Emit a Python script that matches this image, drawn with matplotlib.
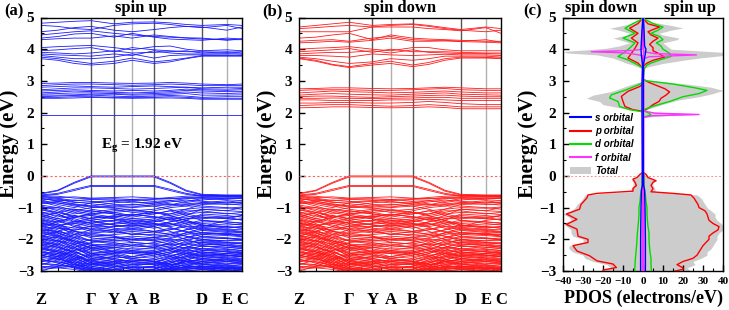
import numpy as np
import matplotlib
matplotlib.use('Agg')
import matplotlib.pyplot as plt
from matplotlib.lines import Line2D
from matplotlib.patches import Patch

plt.rcParams['font.family'] = ['Liberation Serif', 'DejaVu Serif']
plt.rcParams['font.weight'] = 'bold'
plt.rcParams['mathtext.fontset'] = 'custom'
plt.rcParams['mathtext.rm'] = 'Liberation Serif:bold'
plt.rcParams['mathtext.bf'] = 'Liberation Serif:bold'
plt.rcParams['mathtext.it'] = 'Liberation Serif:bold'

# ---------------- data ----------------
# k-path sample positions: Z, z1, z2, Gamma, Y, A, B, b1, b2, D, E, C
kpath = [0.0, 0.083, 0.166, 0.249, 0.363, 0.453, 0.562, 0.642, 0.722, 0.801, 0.925, 1.0]
hs_pos = [0.0, 0.249, 0.363, 0.453, 0.562, 0.801, 0.925, 1.0]
hs_labels = ['Z', 'Γ', 'Y', 'A', 'B', 'D', 'E', 'C']
hs_dark = [True, True, True, False, True, True, False, True]

valence_bands = [
    [-0.55, -0.45, -0.20, -0.00, -0.00, -0.00, -0.00, -0.20, -0.45, -0.58, -0.60, -0.60],
    [-0.57, -0.47, -0.23, -0.03, -0.03, -0.03, -0.03, -0.23, -0.48, -0.60, -0.62, -0.62],
    [-0.60, -0.55, -0.42, -0.30, -0.30, -0.30, -0.30, -0.42, -0.55, -0.62, -0.63, -0.63],
    [-0.62, -0.58, -0.46, -0.33, -0.33, -0.33, -0.33, -0.46, -0.58, -0.64, -0.65, -0.65],
    [-0.62, -0.64, -0.70, -0.72, -0.72, -0.74, -0.72, -0.68, -0.64, -0.62, -0.62, -0.63],
    [-0.66, -0.70, -0.78, -0.74, -0.76, -0.78, -0.74, -0.72, -0.68, -0.66, -0.67, -0.68],
    [-0.70, -0.80, -0.90, -0.95, -0.85, -0.80, -0.88, -0.92, -0.80, -0.72, -0.75, -0.78],
    [-0.76, -0.72, -0.82, -0.88, -0.95, -0.98, -0.90, -0.82, -0.76, -0.80, -0.85, -0.82],
    [-0.82, -0.95, -1.10, -1.20, -1.10, -1.05, -1.15, -1.20, -1.05, -0.90, -0.88, -0.92],
    [-0.88, -0.85, -0.95, -1.05, -1.15, -1.25, -1.10, -1.00, -0.95, -0.95, -1.00, -1.05],
    [-0.95, -1.10, -1.30, -1.40, -1.30, -1.20, -1.30, -1.40, -1.25, -1.05, -1.10, -1.00],
    [-1.00, -1.00, -1.15, -1.25, -1.35, -1.45, -1.35, -1.20, -1.10, -1.10, -1.20, -1.15],
    [-1.05, -1.20, -1.45, -1.55, -1.50, -1.40, -1.50, -1.55, -1.40, -1.20, -1.25, -1.30],
    [-1.12, -1.30, -1.10, -1.00, -0.95, -0.90, -0.95, -1.05, -1.20, -1.30, -1.35, -1.25],
    [-1.18, -1.25, -1.35, -1.50, -1.65, -1.70, -1.60, -1.45, -1.35, -1.35, -1.30, -1.40],
    [-1.25, -1.40, -1.60, -1.75, -1.70, -1.65, -1.75, -1.70, -1.55, -1.45, -1.45, -1.50],
    [-1.30, -1.15, -1.05, -1.10, -1.20, -1.30, -1.20, -1.10, -1.25, -1.40, -1.50, -1.55],
    [-1.35, -1.50, -1.75, -1.90, -1.85, -1.80, -1.90, -1.85, -1.70, -1.55, -1.60, -1.65],
    [-1.40, -1.45, -1.30, -1.25, -1.35, -1.50, -1.40, -1.30, -1.40, -1.55, -1.65, -1.60],
    [-1.45, -1.60, -1.85, -2.05, -2.00, -1.95, -2.05, -1.95, -1.80, -1.65, -1.70, -1.75],
    [-1.50, -1.55, -1.50, -1.45, -1.55, -1.65, -1.55, -1.50, -1.60, -1.70, -1.75, -1.80],
    [-1.55, -1.70, -1.95, -2.15, -2.20, -2.15, -2.25, -2.10, -1.95, -1.80, -1.85, -1.85],
    [-1.60, -1.65, -1.70, -1.65, -1.75, -1.85, -1.75, -1.65, -1.75, -1.85, -1.80, -1.90],
    [-1.65, -1.80, -2.05, -2.30, -2.35, -2.40, -2.35, -2.25, -2.05, -1.90, -1.95, -2.00],
    [-1.70, -1.75, -1.85, -1.90, -1.95, -2.00, -1.95, -1.85, -1.90, -2.00, -2.05, -2.00],
    [-1.75, -1.90, -2.15, -2.45, -2.50, -2.55, -2.45, -2.35, -2.15, -2.00, -2.10, -2.10],
    [-1.80, -1.80, -1.95, -2.05, -2.10, -2.20, -2.10, -2.00, -2.05, -2.10, -2.15, -2.20],
    [-1.85, -2.00, -2.25, -2.55, -2.60, -2.70, -2.60, -2.45, -2.25, -2.10, -2.20, -2.25],
    [-1.90, -1.95, -2.05, -2.20, -2.25, -2.35, -2.25, -2.15, -2.15, -2.20, -2.25, -2.30],
    [-1.95, -2.10, -2.35, -2.65, -2.75, -2.85, -2.75, -2.55, -2.35, -2.20, -2.30, -2.35],
    [-2.00, -2.05, -2.15, -2.35, -2.40, -2.45, -2.40, -2.30, -2.25, -2.30, -2.35, -2.40],
    [-2.05, -2.20, -2.45, -2.75, -2.85, -2.95, -2.85, -2.65, -2.45, -2.30, -2.40, -2.45],
    [-2.10, -2.15, -2.30, -2.45, -2.55, -2.60, -2.50, -2.40, -2.35, -2.40, -2.45, -2.50],
    [-2.15, -2.30, -2.55, -2.85, -2.95, -3.05, -2.95, -2.75, -2.55, -2.40, -2.50, -2.55],
    [-2.20, -2.25, -2.40, -2.55, -2.65, -2.70, -2.65, -2.50, -2.45, -2.50, -2.55, -2.60],
    [-2.25, -2.40, -2.65, -2.90, -3.05, -3.10, -3.00, -2.85, -2.65, -2.50, -2.60, -2.65],
    [-2.30, -2.35, -2.50, -2.70, -2.75, -2.80, -2.75, -2.60, -2.55, -2.60, -2.65, -2.70],
    [-2.35, -2.50, -2.75, -2.95, -3.10, -3.15, -3.05, -2.95, -2.75, -2.60, -2.70, -2.75],
    [-2.40, -2.45, -2.60, -2.80, -2.85, -2.90, -2.85, -2.70, -2.65, -2.70, -2.75, -2.80],
    [-2.50, -2.60, -2.80, -3.00, -3.10, -3.10, -3.10, -3.00, -2.85, -2.70, -2.80, -2.85],
    [-2.55, -2.55, -2.70, -2.90, -2.95, -3.00, -2.95, -2.80, -2.75, -2.80, -2.85, -2.90],
    [-2.65, -2.70, -2.85, -3.05, -3.10, -3.10, -3.10, -3.00, -2.90, -2.85, -2.90, -2.95],
    [-2.75, -2.80, -2.90, -3.00, -3.05, -3.10, -3.05, -2.95, -2.95, -2.90, -2.95, -3.00],
    [-2.85, -2.90, -2.95, -3.05, -3.10, -3.10, -3.10, -3.05, -3.00, -2.95, -3.00, -3.05],
    [-2.95, -2.90, -2.85, -2.80, -2.75, -2.70, -2.75, -2.85, -2.90, -2.95, -3.00, -2.95],
    [-2.60, -2.45, -2.25, -2.10, -2.05, -2.00, -2.05, -2.15, -2.30, -2.45, -2.50, -2.55],
    [-2.80, -2.65, -2.45, -2.30, -2.25, -2.20, -2.25, -2.35, -2.50, -2.65, -2.70, -2.75],
    [-3.00, -2.85, -2.65, -2.50, -2.45, -2.40, -2.45, -2.55, -2.70, -2.85, -2.90, -2.95],
    [-2.20, -2.05, -1.85, -1.70, -1.60, -1.55, -1.60, -1.75, -1.90, -2.05, -2.10, -2.15],
    [-1.90, -1.75, -1.60, -1.45, -1.40, -1.35, -1.40, -1.50, -1.65, -1.80, -1.85, -1.90],
    [-1.60, -1.45, -1.30, -1.20, -1.15, -1.10, -1.15, -1.25, -1.40, -1.55, -1.60, -1.65],
    [-2.45, -2.55, -2.35, -2.25, -2.40, -2.55, -2.40, -2.30, -2.45, -2.55, -2.45, -2.40],
    [-2.70, -2.60, -2.75, -2.65, -2.55, -2.60, -2.70, -2.80, -2.70, -2.75, -2.65, -2.70],
    [-1.20, -1.35, -1.25, -1.35, -1.45, -1.55, -1.45, -1.35, -1.45, -1.60, -1.40, -1.35],
    [-0.75, -0.90, -1.00, -0.85, -0.80, -0.85, -0.82, -0.88, -0.95, -0.85, -0.78, -0.85],
    [-0.64, -0.68, -0.66, -0.70, -0.68, -0.66, -0.70, -0.72, -0.70, -0.68, -0.66, -0.65],
    [-0.68, -0.74, -0.84, -0.82, -0.78, -0.74, -0.80, -0.78, -0.72, -0.70, -0.72, -0.70],
    [-0.72, -0.78, -0.76, -0.80, -0.90, -0.92, -0.85, -0.78, -0.84, -0.76, -0.70, -0.72],
    [-0.80, -0.85, -0.92, -0.98, -1.02, -1.00, -0.95, -0.90, -0.88, -0.84, -0.90, -0.88],
    [-0.86, -0.80, -0.88, -0.95, -1.00, -1.10, -1.05, -0.95, -0.90, -0.88, -0.82, -0.86],
    [-0.92, -1.00, -1.05, -1.15, -1.05, -1.15, -1.20, -1.10, -1.05, -1.00, -1.02, -0.98],
    [-0.98, -1.05, -1.20, -1.10, -1.20, -1.25, -1.15, -1.25, -1.15, -1.05, -1.10, -1.12],
    [-1.02, -1.15, -1.25, -1.35, -1.25, -1.35, -1.30, -1.30, -1.20, -1.15, -1.18, -1.22],
    [-1.08, -1.15, -1.30, -1.20, -1.30, -1.40, -1.45, -1.35, -1.30, -1.25, -1.30, -1.25],
    [-1.15, -1.20, -1.40, -1.50, -1.40, -1.50, -1.55, -1.45, -1.35, -1.30, -1.35, -1.38],
    [-1.22, -1.35, -1.45, -1.40, -1.55, -1.60, -1.50, -1.60, -1.50, -1.40, -1.45, -1.48],
    [-1.28, -1.40, -1.50, -1.60, -1.60, -1.55, -1.65, -1.55, -1.45, -1.50, -1.55, -1.52],
    [-1.32, -1.45, -1.55, -1.70, -1.80, -1.75, -1.80, -1.70, -1.60, -1.58, -1.62, -1.60],
    [-1.38, -1.55, -1.65, -1.60, -1.70, -1.85, -1.85, -1.80, -1.70, -1.62, -1.68, -1.70],
    [-1.42, -1.55, -1.75, -1.85, -1.90, -2.00, -1.95, -1.90, -1.80, -1.72, -1.78, -1.76],
    [-1.48, -1.65, -1.80, -1.95, -2.05, -2.05, -2.00, -1.98, -1.85, -1.78, -1.82, -1.84],
    [-1.52, -1.60, -1.75, -1.80, -1.90, -2.10, -2.15, -2.05, -1.95, -1.85, -1.88, -1.92],
    [-1.58, -1.75, -1.90, -2.05, -2.15, -2.25, -2.20, -2.15, -2.00, -1.95, -1.98, -1.96],
    [-1.62, -1.78, -2.00, -2.20, -2.25, -2.30, -2.30, -2.20, -2.10, -2.02, -2.05, -2.04],
    [-1.68, -1.85, -2.10, -2.25, -2.30, -2.40, -2.45, -2.30, -2.15, -2.08, -2.12, -2.14],
    [-1.72, -1.88, -2.05, -2.15, -2.40, -2.45, -2.50, -2.40, -2.25, -2.15, -2.18, -2.22],
    [-1.78, -1.95, -2.20, -2.40, -2.45, -2.60, -2.55, -2.45, -2.30, -2.22, -2.25, -2.28],
    [-1.82, -1.90, -2.10, -2.30, -2.50, -2.65, -2.65, -2.55, -2.40, -2.28, -2.32, -2.36],
    [-1.88, -2.05, -2.30, -2.50, -2.60, -2.75, -2.70, -2.60, -2.45, -2.35, -2.38, -2.42],
    [-1.92, -2.05, -2.25, -2.45, -2.65, -2.80, -2.80, -2.70, -2.50, -2.40, -2.45, -2.48],
    [-1.98, -2.15, -2.40, -2.60, -2.70, -2.90, -2.90, -2.75, -2.60, -2.48, -2.52, -2.55],
    [-2.02, -2.20, -2.45, -2.70, -2.80, -2.95, -3.00, -2.85, -2.65, -2.55, -2.58, -2.62],
    [-2.08, -2.25, -2.50, -2.75, -2.90, -3.05, -3.05, -2.90, -2.70, -2.62, -2.65, -2.68],
    [-2.12, -2.25, -2.40, -2.60, -2.70, -2.75, -2.80, -2.65, -2.55, -2.45, -2.50, -2.52],
    [-2.18, -2.35, -2.60, -2.80, -2.90, -2.95, -2.95, -2.80, -2.70, -2.65, -2.70, -2.72],
    [-2.22, -2.40, -2.55, -2.65, -2.85, -2.90, -2.85, -2.75, -2.65, -2.70, -2.78, -2.76],
    [-2.28, -2.45, -2.70, -2.90, -3.00, -3.05, -3.00, -2.90, -2.80, -2.75, -2.82, -2.85],
    [-2.32, -2.40, -2.55, -2.75, -2.80, -2.85, -2.90, -2.85, -2.70, -2.78, -2.88, -2.92],
    [-2.38, -2.55, -2.80, -2.95, -3.05, -3.10, -3.05, -2.95, -2.85, -2.85, -2.92, -2.96],
    [-2.42, -2.50, -2.65, -2.85, -2.95, -3.00, -3.00, -2.90, -2.80, -2.90, -2.96, -3.00],
    [-2.48, -2.65, -2.85, -3.00, -3.05, -3.10, -3.08, -3.00, -2.95, -2.92, -3.00, -3.05],
    [-2.58, -2.62, -2.75, -2.95, -3.00, -3.05, -3.02, -2.95, -2.88, -2.96, -3.02, -3.05],
    [-2.62, -2.75, -2.90, -3.05, -3.10, -3.10, -3.10, -3.02, -2.98, -3.00, -3.05, -3.08],
    [-2.68, -2.72, -2.80, -2.92, -2.96, -3.00, -2.98, -2.92, -2.86, -2.84, -2.88, -2.90],
    [-2.78, -2.82, -2.88, -2.96, -3.00, -3.05, -3.02, -2.96, -2.92, -2.88, -2.92, -2.94],
    [-2.88, -2.86, -2.80, -2.75, -2.70, -2.66, -2.70, -2.78, -2.84, -2.90, -2.94, -2.92],
    [-2.92, -2.78, -2.60, -2.45, -2.40, -2.35, -2.40, -2.50, -2.62, -2.78, -2.84, -2.88],
    [-2.72, -2.55, -2.35, -2.20, -2.15, -2.10, -2.15, -2.25, -2.40, -2.55, -2.62, -2.66],
    [-2.52, -2.35, -2.15, -2.00, -1.95, -1.90, -1.95, -2.05, -2.20, -2.35, -2.40, -2.45],
    [-2.32, -2.15, -1.95, -1.80, -1.75, -1.70, -1.75, -1.85, -2.00, -2.15, -2.20, -2.25],
    [-2.05, -1.90, -1.72, -1.58, -1.52, -1.48, -1.52, -1.62, -1.78, -1.92, -1.98, -2.02],
    [-1.75, -1.60, -1.45, -1.32, -1.28, -1.22, -1.28, -1.38, -1.52, -1.68, -1.72, -1.78],
]

cond_up = [
    [4.82, 4.85, 4.88, 4.90, 4.80, 4.85, 4.86, 4.83, 4.78, 4.75, 4.78, 4.75],
    [4.75, 4.72, 4.65, 4.62, 4.75, 4.80, 4.82, 4.78, 4.72, 4.70, 4.60, 4.70],
    [4.55, 4.60, 4.68, 4.72, 4.60, 4.55, 4.62, 4.68, 4.72, 4.68, 4.75, 4.65],
    [4.45, 4.50, 4.55, 4.58, 4.50, 4.45, 4.40, 4.38, 4.35, 4.32, 4.30, 4.30],
    [4.35, 4.40, 4.48, 4.50, 4.38, 4.50, 4.38, 4.32, 4.30, 4.28, 4.35, 4.32],
    [4.30, 4.33, 4.35, 4.35, 4.42, 4.35, 4.45, 4.40, 4.36, 4.35, 4.28, 4.33],
    [4.05, 4.08, 4.10, 4.12, 4.05, 3.98, 4.08, 4.10, 4.00, 3.95, 3.98, 3.95],
    [3.95, 3.98, 4.02, 4.05, 3.92, 4.05, 3.98, 3.95, 3.92, 3.92, 3.90, 3.92],
    [3.90, 3.88, 3.85, 3.88, 3.95, 3.88, 3.90, 3.92, 3.95, 3.88, 3.92, 3.88],
    [3.85, 3.82, 3.80, 3.78, 3.85, 3.80, 3.95, 3.88, 3.85, 3.85, 3.86, 3.85],
    [3.80, 3.75, 3.70, 3.70, 3.75, 3.85, 3.72, 3.80, 3.82, 3.82, 3.82, 3.80],
    [3.75, 3.70, 3.62, 3.55, 3.62, 3.72, 3.60, 3.65, 3.72, 3.80, 3.80, 3.82],
    [3.70, 3.65, 3.55, 3.50, 3.55, 3.65, 3.55, 3.60, 3.70, 3.78, 3.78, 3.78],
    [2.92, 2.93, 2.95, 2.95, 2.93, 2.92, 2.93, 2.95, 2.93, 2.90, 2.88, 2.90],
    [2.85, 2.88, 2.90, 2.90, 2.88, 2.86, 2.88, 2.90, 2.88, 2.85, 2.85, 2.85],
    [2.80, 2.82, 2.84, 2.82, 2.80, 2.82, 2.84, 2.82, 2.80, 2.78, 2.80, 2.80],
    [2.72, 2.75, 2.78, 2.78, 2.76, 2.74, 2.76, 2.78, 2.80, 2.75, 2.74, 2.76],
    [2.68, 2.70, 2.72, 2.70, 2.68, 2.70, 2.68, 2.70, 2.74, 2.72, 2.70, 2.72],
    [2.62, 2.65, 2.68, 2.66, 2.64, 2.62, 2.64, 2.66, 2.70, 2.68, 2.66, 2.66],
    [2.58, 2.60, 2.62, 2.62, 2.60, 2.58, 2.60, 2.62, 2.65, 2.62, 2.60, 2.62],
    [2.55, 2.55, 2.56, 2.58, 2.58, 2.55, 2.56, 2.58, 2.60, 2.55, 2.55, 2.56],
    [2.50, 2.52, 2.54, 2.55, 2.52, 2.50, 2.52, 2.54, 2.52, 2.48, 2.50, 2.50],
    [2.48, 2.48, 2.50, 2.50, 2.48, 2.48, 2.48, 2.50, 2.48, 2.45, 2.45, 2.45],
    [2.45, 2.45, 2.46, 2.48, 2.46, 2.45, 2.46, 2.46, 2.45, 2.42, 2.42, 2.42],
    [1.93, 1.93, 1.93, 1.93, 1.93, 1.93, 1.93, 1.93, 1.93, 1.93, 1.93, 1.93],
]

cond_dn = [
    [4.70, 4.75, 4.80, 4.85, 4.75, 4.78, 4.80, 4.75, 4.68, 4.62, 4.70, 4.65],
    [4.65, 4.68, 4.72, 4.75, 4.70, 4.75, 4.78, 4.72, 4.65, 4.60, 4.55, 4.60],
    [4.55, 4.55, 4.55, 4.55, 4.70, 4.70, 4.70, 4.65, 4.62, 4.58, 4.68, 4.50],
    [4.35, 4.38, 4.45, 4.50, 4.30, 4.45, 4.35, 4.32, 4.30, 4.28, 4.25, 4.25],
    [4.25, 4.28, 4.30, 4.25, 4.35, 4.40, 4.30, 4.28, 4.28, 4.25, 4.30, 4.22],
    [4.20, 4.22, 4.25, 4.22, 4.28, 4.35, 4.25, 4.25, 4.26, 4.24, 4.22, 4.20],
    [4.00, 4.03, 4.05, 4.08, 4.00, 3.95, 4.05, 4.05, 3.98, 3.95, 3.95, 3.95],
    [3.92, 3.95, 3.98, 4.02, 3.90, 4.00, 3.92, 3.92, 3.92, 3.90, 3.88, 3.88],
    [3.85, 3.88, 3.90, 3.90, 3.95, 3.88, 3.98, 3.90, 3.88, 3.86, 3.86, 3.85],
    [3.80, 3.80, 3.78, 3.75, 3.85, 3.82, 3.80, 3.82, 3.84, 3.82, 3.82, 3.80],
    [3.75, 3.70, 3.62, 3.55, 3.60, 3.70, 3.65, 3.70, 3.78, 3.78, 3.78, 3.75],
    [3.72, 3.65, 3.52, 3.45, 3.55, 3.62, 3.50, 3.58, 3.70, 3.75, 3.74, 3.72],
    [3.70, 3.62, 3.50, 3.42, 3.50, 3.55, 3.45, 3.52, 3.65, 3.72, 3.72, 3.70],
    [2.75, 2.76, 2.78, 2.78, 2.76, 2.75, 2.76, 2.78, 2.80, 2.78, 2.75, 2.75],
    [2.70, 2.72, 2.72, 2.72, 2.70, 2.70, 2.72, 2.74, 2.76, 2.72, 2.70, 2.70],
    [2.62, 2.65, 2.68, 2.66, 2.64, 2.62, 2.64, 2.66, 2.68, 2.65, 2.62, 2.62],
    [2.55, 2.58, 2.60, 2.58, 2.56, 2.55, 2.58, 2.60, 2.62, 2.58, 2.56, 2.55],
    [2.50, 2.52, 2.52, 2.50, 2.48, 2.50, 2.52, 2.54, 2.55, 2.52, 2.50, 2.50],
    [2.45, 2.45, 2.46, 2.45, 2.44, 2.45, 2.46, 2.48, 2.48, 2.45, 2.45, 2.45],
    [2.40, 2.40, 2.38, 2.38, 2.38, 2.40, 2.40, 2.42, 2.40, 2.38, 2.38, 2.38],
    [2.30, 2.30, 2.32, 2.32, 2.30, 2.30, 2.32, 2.35, 2.32, 2.28, 2.25, 2.25],
    [2.22, 2.24, 2.25, 2.25, 2.22, 2.20, 2.22, 2.25, 2.22, 2.18, 2.18, 2.18],
    [2.15, 2.16, 2.18, 2.18, 2.16, 2.15, 2.16, 2.18, 2.16, 2.12, 2.12, 2.12],
]

# PDOS: (energy, electrons/eV) pairs; spin up plotted to the right, spin down to the left
total_up = [(-3.0, 24), (-2.9, 22), (-2.8, 26), (-2.7, 25), (-2.6, 29), (-2.5, 32), (-2.4, 32), (-2.3, 34),
            (-2.2, 35), (-2.1, 36), (-2.0, 37), (-1.9, 37), (-1.8, 38), (-1.7, 40), (-1.6, 41), (-1.5, 39),
            (-1.4, 37), (-1.3, 36), (-1.2, 36), (-1.1, 34), (-1.0, 32), (-0.9, 31), (-0.8, 30), (-0.7, 29),
            (-0.6, 27), (-0.55, 18), (-0.5, 6), (-0.4, 6), (-0.3, 5), (-0.2, 5), (-0.15, 7), (-0.05, 3),
            (0.05, 2), (0.12, 0), (1.85, 0), (1.9, 12), (1.94, 30), (2.0, 10), (2.05, 2), (2.1, 2), (2.2, 7),
            (2.3, 12), (2.4, 18), (2.5, 28), (2.6, 35), (2.7, 40), (2.8, 34), (2.9, 22), (3.0, 6), (3.05, 0),
            (3.38, 0), (3.45, 3), (3.55, 10), (3.65, 20), (3.72, 28), (3.8, 40), (3.9, 40), (4.0, 14),
            (4.1, 12), (4.2, 10), (4.3, 17), (4.35, 18), (4.45, 10), (4.5, 8), (4.6, 14), (4.67, 20),
            (4.75, 14), (4.85, 5), (4.95, 1), (5.0, 0)]
p_up = [(-3.0, 16), (-2.95, 20), (-2.9, 20), (-2.8, 17), (-2.7, 20), (-2.6, 25), (-2.5, 27), (-2.4, 28),
        (-2.3, 29), (-2.2, 30), (-2.1, 31.5), (-2.0, 33), (-1.9, 33), (-1.8, 35), (-1.7, 37.5), (-1.6, 38),
        (-1.5, 35), (-1.4, 33), (-1.3, 32.5), (-1.2, 32), (-1.1, 31), (-1.0, 28), (-0.9, 27.5), (-0.8, 26.5),
        (-0.7, 25.5), (-0.6, 24), (-0.55, 15), (-0.5, 4), (-0.4, 5), (-0.3, 4), (-0.2, 5), (-0.15, 6.5),
        (-0.05, 2.5), (0.05, 1.5), (0.12, 0), (2.05, 0), (2.15, 3), (2.25, 5), (2.35, 8), (2.45, 9),
        (2.55, 11.5), (2.65, 13.3), (2.75, 11), (2.85, 7), (2.95, 3), (3.05, 0), (3.45, 0), (3.55, 1.7),
        (3.65, 5), (3.75, 10.8), (3.85, 8.3), (3.95, 5), (4.05, 5), (4.15, 3.3), (4.25, 5), (4.35, 7.5),
        (4.45, 4), (4.55, 2.5), (4.62, 5), (4.7, 8.3), (4.8, 2.5), (4.9, 1), (5.0, 0)]
d_up = [(-3.0, 4.2), (-2.8, 4), (-2.6, 4), (-2.4, 3.5), (-2.2, 3.2), (-2.0, 3), (-1.8, 3), (-1.6, 2.5),
        (-1.4, 2.2), (-1.2, 2), (-1.0, 2), (-0.8, 1.5), (-0.6, 1.2), (-0.45, 0.8), (-0.3, 0.5), (0.0, 0.5),
        (0.1, 0.3), (0.15, 0), (1.85, 0), (1.92, 4), (1.98, 3), (2.05, 0.8), (2.1, 0.8), (2.2, 5),
        (2.35, 13.3), (2.5, 20), (2.6, 28), (2.7, 32), (2.78, 26), (2.9, 15), (3.0, 2), (3.05, 0),
        (3.4, 0.8), (3.5, 2), (3.56, 4), (3.66, 8.3), (3.77, 14), (3.87, 13.3), (4.0, 10), (4.1, 9),
        (4.2, 6.7), (4.3, 10), (4.4, 8.3), (4.5, 4), (4.6, 7.5), (4.7, 10), (4.81, 5), (4.95, 0.8), (5.0, 0)]
f_up = [(-3.0, 0.3), (1.85, 0.3), (1.9, 5), (1.94, 28), (1.98, 6), (2.05, 0.3), (3.7, 0.3), (3.76, 3),
        (3.82, 26.7), (3.86, 6), (3.92, 0.3), (5.0, 0.3)]
s_up = [(-3.0, 1.2), (-2.0, 1.2), (-1.0, 1.0), (-0.45, 0.8), (-0.3, 0.3), (0.1, 0.2), (3.5, 0.2),
        (3.8, 1.0), (4.0, 1.5), (4.1, 0.8), (4.6, 0.5), (4.9, 0.2), (5.0, 0)]

total_dn = [(-3.0, 22), (-2.9, 16), (-2.8, 18), (-2.7, 25), (-2.6, 29), (-2.5, 30), (-2.4, 35), (-2.3, 37),
            (-2.2, 37), (-2.1, 30), (-2.0, 30), (-1.9, 35), (-1.8, 36), (-1.7, 36), (-1.6, 38), (-1.5, 40),
            (-1.4, 36), (-1.3, 37), (-1.2, 40), (-1.1, 36), (-1.0, 34), (-0.9, 33), (-0.8, 31), (-0.7, 30),
            (-0.6, 29), (-0.55, 20), (-0.5, 6), (-0.4, 6), (-0.3, 5), (-0.2, 5), (-0.1, 6), (-0.05, 3),
            (0.05, 2), (0.12, 0), (2.04, 0), (2.1, 5), (2.15, 11.7), (2.25, 20), (2.35, 21.7), (2.45, 28.3),
            (2.55, 25), (2.65, 17), (2.72, 13.3), (2.87, 6.7), (2.98, 1), (3.05, 0), (3.38, 0), (3.4, 1),
            (3.5, 5), (3.56, 8.3), (3.65, 12), (3.72, 15), (3.82, 23), (3.88, 38), (3.93, 40), (3.98, 28),
            (4.03, 18.3), (4.1, 12), (4.2, 6.7), (4.3, 12), (4.35, 15), (4.45, 8), (4.5, 6.7), (4.6, 12),
            (4.66, 16.7), (4.75, 10), (4.85, 4), (4.95, 1), (5.0, 0)]
p_dn = [(-3.0, 20), (-2.97, 20), (-2.89, 13.3), (-2.78, 15), (-2.68, 23), (-2.52, 26.7), (-2.37, 33),
        (-2.2, 35), (-2.1, 27.5), (-2.0, 27.5), (-1.9, 32.5), (-1.68, 33), (-1.53, 38.3), (-1.37, 33),
        (-1.2, 38.3), (-1.05, 31.7), (-0.9, 31), (-0.69, 28), (-0.6, 27.5), (-0.55, 23), (-0.48, 5),
        (-0.4, 5), (-0.3, 3.3), (-0.2, 4), (-0.1, 5), (-0.05, 3), (0.05, 1.5), (0.12, 0), (2.04, 0),
        (2.09, 5), (2.19, 9), (2.35, 10), (2.51, 10.8), (2.67, 7.5), (2.82, 1.7), (2.9, 0), (3.4, 0),
        (3.56, 2.5), (3.72, 7.5), (3.87, 5.8), (4.03, 4), (4.2, 2.5), (4.35, 5.8), (4.5, 2.5), (4.66, 6.7),
        (4.81, 2.5), (4.95, 0.5), (5.0, 0)]
d_dn = [(-3.0, 4.2), (-2.8, 4), (-2.6, 3.8), (-2.4, 3.5), (-2.2, 3.2), (-2.0, 3), (-1.8, 2.8), (-1.6, 2.5),
        (-1.4, 2.2), (-1.2, 2), (-1.0, 2), (-0.8, 1.5), (-0.6, 1.2), (-0.45, 0.8), (-0.3, 0.5), (0.1, 0.3),
        (0.15, 0), (2.02, 0), (2.09, 6.7), (2.19, 11.7), (2.35, 12.5), (2.46, 16.7), (2.56, 15.8),
        (2.72, 8.3), (2.87, 2.5), (2.95, 0), (3.4, 0), (3.5, 2.5), (3.66, 7.5), (3.77, 12.5), (3.87, 10),
        (4.03, 6.7), (4.2, 4), (4.35, 10), (4.5, 4), (4.66, 9), (4.81, 5), (4.95, 0.5), (5.0, 0)]
f_dn = [(-3.0, 0.3), (3.8, 0.3), (3.88, 8), (3.92, 25.8), (3.96, 5), (4.0, 0.3), (5.0, 0.3)]
s_dn = [(-3.0, 1.2), (-2.0, 1.2), (-1.0, 1.0), (-0.45, 0.8), (-0.3, 0.3), (2.1, 0.5), (2.9, 0.5),
        (3.5, 0.2), (3.8, 0.8), (4.0, 1.0), (4.6, 0.5), (5.0, 0)]

band_gap_text = 'E$_\\mathregular{g}$ = 1.92 eV'

# ---------------- figure ----------------
W, H = 729, 310
fig = plt.figure(figsize=(W / 100, H / 100), dpi=100)


def frac_box(x0, x1, ytop, ybot):
    return [x0 / W, 1 - ybot / H, (x1 - x0) / W, (ybot - ytop) / H]


ax_a = fig.add_axes(frac_box(41, 242, 17.5, 271))
ax_b = fig.add_axes(frac_box(299, 501, 17.5, 271))
ax_c = fig.add_axes(frac_box(563, 723, 17.5, 271))

BLUE = '#1a1aff'
RED = '#ff1a1a'


def style_energy_axis(ax):
    ax.set_ylim(-3, 5)
    ax.set_yticks(range(-3, 6))
    ax.set_yticks(np.arange(-3, 5.01, 0.5), minor=True)
    ax.tick_params(axis='y', which='major', direction='in', length=4, width=1, labelsize=11, pad=5,
                   right=False)
    ax.tick_params(axis='y', which='minor', direction='in', length=2.5, width=0.8, right=False)
    for lab in ax.get_yticklabels():
        lab.set_fontweight('bold')
    for s in ax.spines.values():
        s.set_linewidth(1.0)


def draw_band_panel(ax, bands, color):
    for x, dark in zip(hs_pos[1:-1], hs_dark[1:-1]):
        ax.axvline(x, color='#555555' if dark else '#b0b0b0', lw=1.0, zorder=1)
    for b in bands:
        ax.plot(kpath, b, color=color, lw=0.6, zorder=2)
    ax.axhline(0, color='#ff6060', lw=0.8, ls=(0, (2, 2)), zorder=3)
    ax.set_xlim(0, 1)
    style_energy_axis(ax)
    ax.set_xticks(hs_pos)
    ax.set_xticklabels(hs_labels, fontsize=12, fontweight='bold')
    ax.set_xticks([0.083, 0.166, 0.306, 0.408, 0.508, 0.642, 0.722, 0.863, 0.962], minor=True)
    ax.tick_params(axis='x', which='major', length=0, pad=15)
    ax.tick_params(axis='x', which='minor', direction='in', length=3, width=0.8)


draw_band_panel(ax_a, valence_bands + cond_up, BLUE)
draw_band_panel(ax_b, valence_bands + cond_dn, RED)
ax_a.text(0.30, 0.95, band_gap_text, fontsize=11, fontweight='bold', ha='left', va='center',
          transform=ax_a.transData)

# ---- PDOS panel ----
def split(pairs):
    e = [p[0] for p in pairs]
    v = [p[1] for p in pairs]
    return np.array(e), np.array(v)


ax = ax_c
e, v = split(total_up)
ax.fill_betweenx(e, 0, v, color='#cccccc', lw=0, zorder=1)
e, v = split(total_dn)
ax.fill_betweenx(e, -v, 0, color='#cccccc', lw=0, zorder=1)
for pairs_u, pairs_d, col, z in [(p_up, p_dn, '#ff0000', 3), (d_up, d_dn, '#00dd00', 4),
                                 (f_up, f_dn, '#ff33ff', 5), (s_up, s_dn, '#0000ff', 6)]:
    e, v = split(pairs_u)
    ax.plot(v, e, color=col, lw=1.0, zorder=z)
    e, v = split(pairs_d)
    ax.plot(-v, e, color=col, lw=1.0, zorder=z)
ax.axvline(0, color='#ff33ff', lw=0.9, zorder=5)
ax.axhline(0, color='#ff9090', lw=0.7, ls=(0, (2, 2)), zorder=2)
ax.set_xlim(-40, 40)
style_energy_axis(ax)
ax.set_xticks(range(-40, 41, 10))
ax.set_xticks(range(-35, 40, 5), minor=True)
ax.tick_params(axis='x', which='major', direction='in', length=4, width=1, labelsize=8, pad=4)
ax.tick_params(axis='x', which='minor', direction='in', length=2.5, width=0.8)
for lab in ax.get_xticklabels():
    lab.set_fontweight('bold')
ax.set_xlabel('PDOS (electrons/eV)', fontsize=13, fontweight='bold', labelpad=3)

handles = [Line2D([], [], color='#0000ff', lw=1.5), Line2D([], [], color='#ff0000', lw=1.5),
           Line2D([], [], color='#00dd00', lw=1.5), Line2D([], [], color='#ff33ff', lw=1.5),
           Patch(facecolor='#cccccc', edgecolor='none')]
labels = ['s orbital', 'p orbital', 'd orbital', 'f orbital', 'Total']
leg = ax.legend(handles, labels, loc='upper left', bbox_to_anchor=(0.02, 0.64), frameon=False,
                prop={'family': ['Liberation Sans', 'DejaVu Sans'], 'weight': 'bold', 'style': 'italic',
                      'size': 7},
                handlelength=2.2, handletextpad=0.4, labelspacing=0.35, borderaxespad=0)

# ---- texts ----
def ftext(x, y, s, size, **kw):
    fig.text(x / W, 1 - y / H, s, fontsize=size, fontweight='bold', ha='center', va='center', **kw)


ftext(14, 11, '(a)', 12)
ftext(272, 11, '(b)', 12)
ftext(533, 11, '(c)', 12)
ftext(141, 8, 'spin up', 12)
ftext(400, 8, 'spin down', 12)
ftext(601, 8, 'spin down', 12)
ftext(690, 8, 'spin up', 12)
ftext(9, 144, 'Energy (eV)', 15, rotation=90)
ftext(267, 144, 'Energy (eV)', 15, rotation=90)
ftext(528, 144, 'Energy (eV)', 15, rotation=90)

fig.savefig('out.png', dpi=100)
